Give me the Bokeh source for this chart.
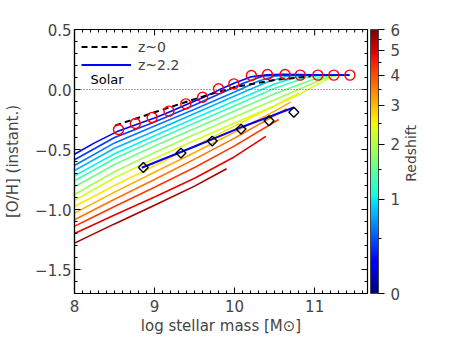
import numpy as np
from bokeh.plotting import figure
from bokeh.layouts import row
from bokeh.models import (LinearAxis, SingleIntervalTicker, FixedTicker, ColorBar,
                          LinearColorMapper, Label, Range1d, Legend, LegendItem,
                          CustomJSTickFormatter, Span)
from bokeh.embed import file_html
from bokeh.resources import INLINE

# ---------------- data ----------------
redshifts = [0.26, 0.42, 0.60, 0.80, 1.03, 1.28, 1.57, 1.89, 2.25, 2.65, 3.11, 3.63, 4.21, 4.86, 5.60]

curve_mass = [
    [8.0, 8.25, 8.55, 8.8, 9.0, 9.2, 9.4, 9.6, 9.8, 10.0, 10.2, 10.4, 10.6, 11.0, 11.44],
    [8.0, 8.5, 9.0, 9.5, 9.8, 10.1, 10.35, 10.55, 11.0, 11.43],
    [8.0, 8.5, 9.0, 9.5, 10.0, 10.3, 10.5, 10.7, 11.42],
    [8.0, 8.5, 9.0, 9.5, 10.0, 10.4, 10.65, 10.85, 11.41],
    [8.0, 8.5, 9.0, 9.5, 10.0, 10.5, 10.8, 11.0, 11.4],
    [8.0, 8.5, 9.0, 9.5, 10.0, 10.5, 10.9, 11.1, 11.38],
    [8.0, 8.5, 9.0, 9.5, 10.0, 10.5, 11.0, 11.2, 11.36],
    [8.0, 8.5, 9.0, 9.5, 10.0, 10.5, 10.9, 11.15, 11.3],
    [8.0, 8.5, 9.0, 9.5, 10.0, 10.5, 10.75, 11.0, 11.22, 11.26],
    [8.0, 8.5, 9.0, 9.5, 10.0, 10.5, 10.8],
    [8.0, 8.5, 9.0, 9.5, 10.0, 10.5, 10.7],
    [8.0, 8.5, 9.0, 9.5, 10.0, 10.65],
    [8.0, 8.5, 9.0, 9.5, 10.0, 10.55],
    [8.0, 8.5, 9.0, 9.5, 10.0, 10.39],
    [8.0, 8.5, 9.0, 9.5, 9.9],
]
curve_oh = [
    [-0.54, -0.445, -0.345, -0.285, -0.237, -0.183, -0.125, -0.068, -0.005, 0.055, 0.105, 0.122, 0.126, 0.122, 0.12],
    [-0.586, -0.40, -0.27, -0.13, -0.04, 0.05, 0.11, 0.123, 0.122, 0.12],
    [-0.633, -0.445, -0.305, -0.165, -0.02, 0.07, 0.11, 0.123, 0.12],
    [-0.675, -0.49, -0.345, -0.20, -0.055, 0.06, 0.11, 0.122, 0.12],
    [-0.72, -0.535, -0.385, -0.24, -0.095, 0.045, 0.108, 0.121, 0.12],
    [-0.76, -0.575, -0.425, -0.28, -0.135, 0.01, 0.10, 0.12, 0.12],
    [-0.81, -0.625, -0.47, -0.325, -0.18, -0.035, 0.09, 0.12, 0.12],
    [-0.875, -0.685, -0.525, -0.375, -0.23, -0.085, 0.03, 0.10, 0.12],
    [-0.925, -0.735, -0.575, -0.425, -0.28, -0.135, -0.06, 0.03, 0.11, 0.12],
    [-0.975, -0.80, -0.635, -0.47, -0.305, -0.135, -0.03],
    [-1.03, -0.855, -0.69, -0.525, -0.355, -0.18, -0.105],
    [-1.086, -0.915, -0.75, -0.58, -0.405, -0.16],
    [-1.14, -0.975, -0.815, -0.65, -0.47, -0.25],
    [-1.20, -1.045, -0.895, -0.74, -0.56, -0.39],
    [-1.28, -1.12, -0.965, -0.805, -0.66],
]

circle_mass = [8.55, 8.76, 8.97, 9.18, 9.39, 9.60, 9.80, 9.99, 10.21, 10.41, 10.63, 10.82, 11.04, 11.24, 11.44]
circle_oh = [-0.333, -0.283, -0.233, -0.18, -0.12, -0.064, 0.006, 0.047, 0.117, 0.125, 0.125, 0.12, 0.12, 0.12, 0.12]

diamond_mass = [8.86, 9.33, 9.72, 10.08, 10.43, 10.74]
diamond_oh = [-0.65, -0.53, -0.43, -0.33, -0.26, -0.19]

z0_mass = [8.51, 9.0, 9.5, 10.0, 10.5, 10.95]
z0_oh = [-0.30, -0.19, -0.08, 0.02, 0.08, 0.11]

z22_mass = [8.84, 9.5, 10.1, 10.74]
z22_oh = [-0.652, -0.475, -0.31, -0.15]

cbar_tick_z = [0, 1, 2, 3, 4, 5, 6]
cbar_minor_z = [0.5, 1.5, 2.5, 3.5, 4.5, 5.5]
cbar_zmax = 6

# ---------------- layout constants ----------------
FONT = "DejaVu Sans"
XMIN, XMAX = 8.0, 11.66
YMIN, YMAX = -1.7, 0.5
FW, FH = 293, 264
BL, BT, BB, BR = 74, 29, 50, 35
H = BT + FH + BB


def jet(f):
    r = np.interp(f, [0, 0.35, 0.66, 0.89, 1], [0, 0, 1, 1, 0.5])
    g = np.interp(f, [0, 0.125, 0.375, 0.64, 0.91, 1], [0, 0, 1, 1, 0, 0])
    b = np.interp(f, [0, 0.11, 0.34, 0.65, 1], [0.5, 1, 1, 0, 0])
    return "#%02x%02x%02x" % (int(round(r * 255)), int(round(g * 255)), int(round(b * 255)))


LMAX = np.log10(1 + cbar_zmax)
palette = [jet(i / 255) for i in range(256)]

p = figure(frame_width=FW, frame_height=FH,
           x_range=Range1d(XMIN, XMAX), y_range=Range1d(YMIN, YMAX),
           output_backend="svg", toolbar_location=None,
           x_axis_type=None, y_axis_type=None,
           min_border_left=BL, min_border_top=BT, min_border_bottom=BB, min_border_right=BR)
p.outline_line_color = "black"
p.outline_line_width = 1.2
p.background_fill_color = "white"
p.border_fill_color = "white"

xfmt = CustomJSTickFormatter(code="return tick.toFixed(0);")
yfmt = CustomJSTickFormatter(code="return tick.toFixed(1).replace('-', '\\u2212');")


def style_axis(ax):
    ax.major_tick_in = 6
    ax.major_tick_out = 0
    ax.minor_tick_in = 3
    ax.minor_tick_out = 0
    ax.axis_line_color = "black"
    ax.axis_line_width = 1.2
    ax.major_tick_line_color = "black"
    ax.minor_tick_line_color = "black"
    ax.major_label_text_font = FONT
    ax.axis_label_text_font = FONT
    ax.axis_label_text_font_style = "normal"
    ax.major_label_text_font_size = "15px"
    ax.axis_label_text_font_size = "15px"


xb = LinearAxis(ticker=SingleIntervalTicker(interval=1, num_minor_ticks=10), formatter=xfmt,
                axis_label="log stellar mass [M\u2299]")
style_axis(xb)
xb.major_label_standoff = 6
xb.axis_label_standoff = 2
p.add_layout(xb, "below")

yl = LinearAxis(ticker=SingleIntervalTicker(interval=0.5, num_minor_ticks=5), formatter=yfmt,
                axis_label="[O/H] (instant.)")
style_axis(yl)
yl.major_label_standoff = 3
yl.axis_label_standoff = 10
p.add_layout(yl, "left")

# inward ticks on the top and right frame edges (mirrors of the bottom/left axes)
tx_major = [8.0, 9.0, 10.0, 11.0]
tx_minor = [v for v in np.round(np.arange(8.1, XMAX, 0.1), 2) if abs(v - round(v)) > 1e-6]
ty_major = [0.5, 0.0, -0.5, -1.0, -1.5]
ty_minor = [v for v in np.round(np.arange(-1.6, YMAX, 0.1), 2) if abs(v * 2 - round(v * 2)) > 1e-6]
dy_major = 6 * (YMAX - YMIN) / FH
dy_minor = 3 * (YMAX - YMIN) / FH
dx_major = 6 * (XMAX - XMIN) / FW
dx_minor = 3 * (XMAX - XMIN) / FW
p.segment(x0=tx_major, y0=[YMAX] * 4, x1=tx_major, y1=[YMAX - dy_major] * 4, line_color="black", line_width=1)
p.segment(x0=tx_minor, y0=[YMAX] * len(tx_minor), x1=tx_minor, y1=[YMAX - dy_minor] * len(tx_minor),
          line_color="black", line_width=1)
p.segment(x0=[XMAX] * 5, y0=ty_major, x1=[XMAX - dx_major] * 5, y1=ty_major, line_color="black", line_width=1)
p.segment(x0=[XMAX] * len(ty_minor), y0=ty_minor, x1=[XMAX - dx_minor] * len(ty_minor), y1=ty_minor,
          line_color="black", line_width=1)

# colored curves, highest redshift first
for k in range(len(redshifts) - 1, -1, -1):
    col = jet(np.log10(1 + redshifts[k]) / LMAX)
    p.line(curve_mass[k], curve_oh[k], line_color=col, line_width=1.6)

p.add_layout(Span(location=0, dimension="width", line_dash="1 2", line_color="#555555", line_width=1))

r_z0 = p.line(z0_mass, z0_oh, line_color="black", line_width=2, line_dash="6 4")
r_z22 = p.line(z22_mass, z22_oh, line_color="#0000ff", line_width=2)

p.scatter(circle_mass, circle_oh, marker="circle", size=10, fill_color=None,
          line_color="red", line_width=1.4)
p.scatter(diamond_mass, diamond_oh, marker="square", angle=np.pi / 4, size=7,
          fill_color=None, line_color="black", line_width=1.4)

p.add_layout(Label(x=8.2, y=0.018, text="Solar", text_font=FONT, text_font_size="13px",
                   text_color="black"))

legend = Legend(items=[LegendItem(label="z~0", renderers=[r_z0]),
                       LegendItem(label="z~2.2", renderers=[r_z22])],
                location=(7, 220), margin=0, padding=8, glyph_width=50,
                glyph_height=17, label_height=17, spacing=1, label_standoff=7,
                background_fill_alpha=0, border_line_color=None, label_text_font=FONT,
                label_text_font_size="14px")
p.add_layout(legend)

mapper = LinearColorMapper(palette=palette, low=0, high=LMAX)
cb = ColorBar(color_mapper=mapper,
              ticker=FixedTicker(ticks=[float(np.log10(1 + z)) for z in cbar_tick_z],
                                 minor_ticks=[float(np.log10(1 + z)) for z in cbar_minor_z]),
              formatter=CustomJSTickFormatter(code="return Math.round(Math.pow(10, tick) - 1).toString();"),
              width=8, padding=0, margin=0, location=(3, 0),
              major_tick_in=0, major_tick_out=6, minor_tick_in=0, minor_tick_out=3,
              major_tick_line_color="black", minor_tick_line_color="black",
              bar_line_color="#444444", label_standoff=6,
              major_label_text_font=FONT, major_label_text_font_size="15px",
              background_fill_alpha=0, border_line_color=None)
p.add_layout(cb, "right")

# narrow companion figure holding the rotated colour-bar title
p2 = figure(width=14, height=H, x_range=Range1d(0, 1), y_range=Range1d(0, H),
            output_backend="svg", toolbar_location=None, x_axis_type=None, y_axis_type=None,
            min_border=0)
p2.outline_line_color = None
p2.background_fill_color = "white"
p2.border_fill_color = "white"
p2.add_layout(Label(x=0.5, y=H - BT - FH / 2, text="Redshift", angle=np.pi / 2,
                    text_align="center", text_baseline="middle", text_font=FONT,
                    text_font_size="14px"))

layout = row(p, p2, spacing=0)
open("out.html", "w").write(file_html(layout, INLINE))
